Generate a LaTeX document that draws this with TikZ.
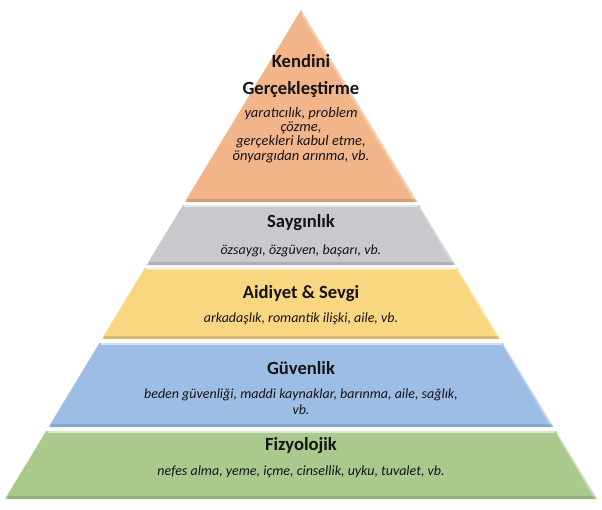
\documentclass[tikz,border=0pt]{standalone}
\usepackage{fontspec}
\setmainfont{Carlito}
\usepackage{tikz}

\definecolor{kat1}{RGB}{242,180,137}
\definecolor{kat2}{RGB}{200,200,205}
\definecolor{kat3}{RGB}{249,214,128}
\definecolor{kat4}{RGB}{158,189,229}
\definecolor{kat5}{RGB}{169,201,141}
\definecolor{yazi}{RGB}{20,20,25}

\begin{document}
\begin{tikzpicture}[x=1pt,y=-1pt,
  layer/.style={line join=round},
  lighttop/.style={white,opacity=0.55,line width=1.5pt},
  lightside/.style={white,opacity=0.35,line width=2pt},
  darkbot/.style={black,opacity=0.12,line width=3pt},
  title/.style={font=\fontsize{18.6}{20}\selectfont\bfseries,text=yazi,align=center},
  detail/.style={font=\fontsize{14}{16}\selectfont\itshape,text=yazi,align=center},
  topdetail/.style={font=\fontsize{14.5}{14.3}\selectfont\itshape,text=yazi,align=center,inner sep=0pt}]

\useasboundingbox (0,0) rectangle (602,509);

% katmanlar
\fill [layer,kat1] (301,10) -- (417.2,202) -- (184.8,202) -- cycle;
\fill [layer,kat2] (183,205) -- (419,205) -- (455.4,265) -- (146.6,265) -- cycle;
\fill [layer,kat3] (144.8,268) -- (457.2,268) -- (500.2,339) -- (101.8,339) -- cycle;
\fill [layer,kat4] (99.4,343) -- (502.6,343) -- (553.4,427) -- (48.6,427) -- cycle;
\fill [layer,kat5] (46.2,431) -- (555.8,431) -- (597,499) -- (5,499) -- cycle;

% kabartma
\draw [lighttop] (184,205.8) -- (418,205.8);
\draw [lighttop] (146,268.8) -- (456,268.8);
\draw [lighttop] (100.5,343.8) -- (501.5,343.8);
\draw [lighttop] (47.5,431.8) -- (554.5,431.8);
\draw [lightside] (302,14) -- (414.5,200);
\draw [lightside] (420,207) -- (452.5,262.5);
\draw [lightside] (458,270) -- (497.5,336.5);
\draw [lightside] (503.5,345) -- (550.5,424.5);
\draw [lightside] (557,433) -- (594,496.5);
\draw [darkbot] (187,200.5) -- (415,200.5);
\draw [darkbot] (149,263.5) -- (453,263.5);
\draw [darkbot] (104,337.5) -- (498,337.5);
\draw [darkbot] (51,425.5) -- (551,425.5);
\draw [darkbot] (8,497.5) -- (594,497.5);

% yazilar
\node [title] (kendini) at (301,76) {Kendini\\[7pt]Gerçekleştirme};
\node [topdetail] (kendiniD) at (301,135) {yaratıcılık, problem\\çözme,\\gerçekleri kabul etme,\\önyargıdan arınma, vb.};

\node [title] (saygi) at (301,223) {Saygınlık};
\node [detail] (saygiD) at (301,251) {özsaygı, özgüven, başarı, vb.};

\node [title] (aidiyet) at (301,294) {Aidiyet \& Sevgi};
\node [detail] (aidiyetD) at (301,319) {arkadaşlık, romantik ilişki, aile, vb.};

\node [title] (guvenlik) at (301,368) {Güvenlik};
\node [detail] (guvenlikD) at (301,402) {beden güvenliği, maddi kaynaklar, barınma, aile, sağlık,\\vb.};

\node [title] (fizyo) at (301,446) {Fizyolojik};
\node [detail] (fizyoD) at (301,472) {nefes alma, yeme, içme, cinsellik, uyku, tuvalet, vb.};

\end{tikzpicture}
\end{document}
